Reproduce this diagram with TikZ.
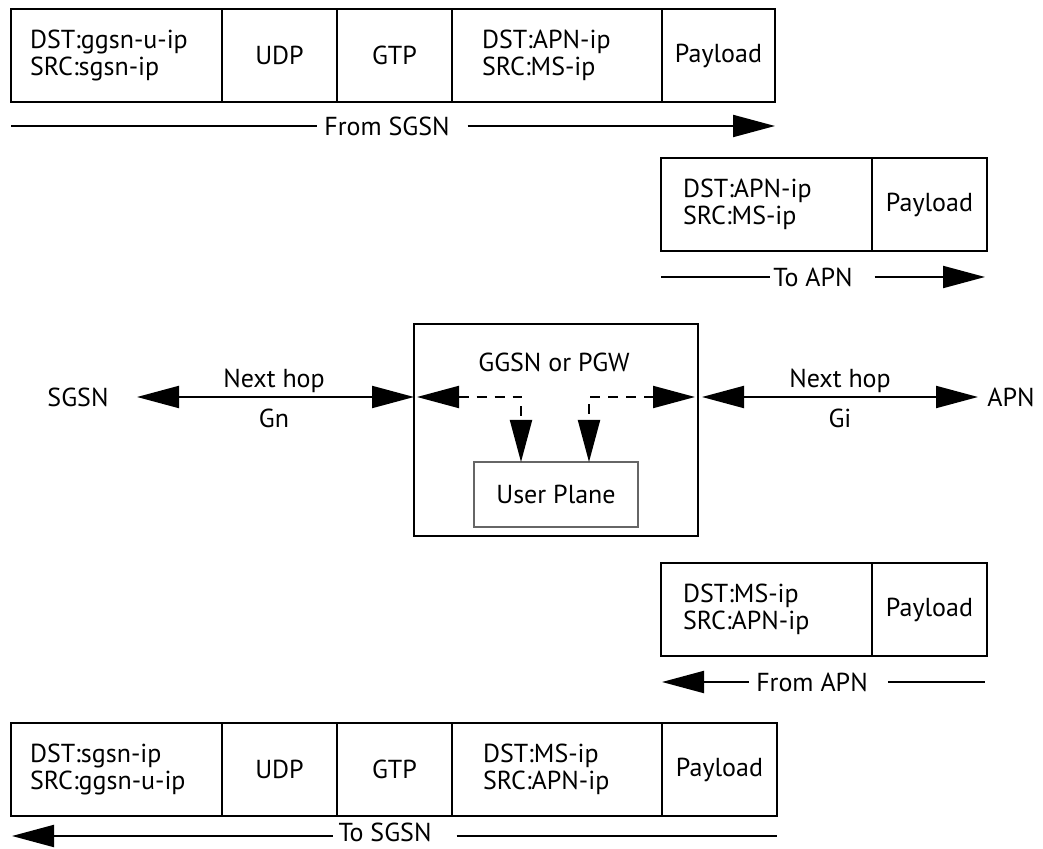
\documentclass[tikz,border=0pt]{standalone}
\usepackage{fontspec}
\setmainfont{PT Sans}
\usetikzlibrary{arrows.meta}
\begin{document}
\begin{tikzpicture}[x=0.5pt,y=-0.5pt,
  font=\fontsize{13}{13.5}\selectfont,
  tri/.tip={Triangle[length=21pt,width=11pt]},
  cell/.style={draw, line width=1pt, minimum height=46.5pt, inner sep=0pt, outer sep=0pt, anchor=west},
  hdr/.style n args={2}{cell, align=left, text width=#1, inner xsep=#2},
  box/.style={cell, minimum width=#1},
  lbl/.style={inner sep=0pt, outer sep=0pt},
  flow/.style={line width=1pt},
  dash arrow/.style={line width=1pt, dash pattern=on 5pt off 4pt, {tri}-{tri}}
]
\useasboundingbox (0,0) rectangle (1043,849);

% ---------- top packet (from SGSN)
\node[hdr={86.5pt}{9.5pt}] (t1) at (11,55.5) {DST:ggsn-u-ip\\SRC:sgsn-ip};
\node[box=57.5pt] (t2) at (t1.east) {UDP};
\node[box=57.5pt] (t3) at (t2.east) {GTP};
\node[hdr={75pt}{15pt}] (t4) at (t3.east) {DST:APN-ip\\SRC:MS-ip};
\node[box=56.5pt] (t5) at (t4.east) {Payload};
\node[lbl] (fs) at (387,126) {From SGSN};
\coordinate (fs1) at (11,126);
\coordinate (fs2) at (775,126);
\draw[flow] (fs1) -- ([xshift=-3.5pt]fs.west);
\draw[flow,-{tri}] ([xshift=9pt]fs.east) -- (fs2);

% ---------- to APN packet
\node[hdr={83.5pt}{11pt}] (a1) at (661,204.5) {DST:APN-ip\\SRC:MS-ip};
\node[box=57.5pt] (a2) at (a1.east) {Payload};
\node[lbl] (ta) at (813,277) {To APN};
\coordinate (ta1) at (661,277);
\coordinate (ta2) at (985,277);
\draw[flow] (ta1) -- ([xshift=-1.5pt]ta.west);
\draw[flow,-{tri}] ([xshift=11pt]ta.east) -- (ta2);

% ---------- middle
\node[draw, line width=1pt, minimum width=142pt, minimum height=106pt, inner sep=0pt, outer sep=0pt] (ggsn) at (556,430) {};
\node[lbl] (gtitle) at (554,362) {GGSN or PGW};
\node[draw=black!60, line width=0.6pt, minimum width=82pt, minimum height=32.5pt, inner sep=0pt, outer sep=0pt] (up) at (556,494.5) {User Plane};
\node[lbl] (sgsn) at (78,397) {SGSN};
\node[lbl] (apn) at (1011,397) {APN};
\coordinate (gn1) at (137,397);
\coordinate (gi2) at (978,397);
\draw[flow,{tri}-{tri}] (gn1) -- (ggsn.west |- gn1);
\draw[flow,{tri}-{tri}] ([xshift=2pt]ggsn.east |- gi2) -- (gi2);
\node[lbl] (nh1) at (274,381) {Next hop};
\node[lbl] (gn) at (274,418) {Gn};
\node[lbl] (nh2) at (840,381) {Next hop};
\node[lbl] (gi) at (840,418) {Gi};
\draw[dash arrow] ([xshift=1.5pt,yshift=16.5pt]ggsn.west) -| ([xshift=-17.5pt]up.north);
\draw[dash arrow] ([xshift=-1.5pt,yshift=16.5pt]ggsn.east) -| ([xshift=16.5pt]up.north);

% ---------- from APN packet
\node[hdr={83.5pt}{11pt}] (b1) at (661,609.5) {DST:MS-ip\\SRC:APN-ip};
\node[box=57.5pt] (b2) at (b1.east) {Payload};
\node[lbl] (fa) at (812,682) {From APN};
\coordinate (fa1) at (662,682);
\coordinate (fa2) at (985,682);
\draw[flow,{tri}-] (fa1) -- ([xshift=-3.5pt]fa.west);
\draw[flow] ([xshift=10pt]fa.east) -- (fa2);

% ---------- bottom packet (to SGSN)
\node[hdr={86.5pt}{9.5pt}] (s1) at (11,769.5) {DST:sgsn-ip\\SRC:ggsn-u-ip};
\node[box=57.5pt] (s2) at (s1.east) {UDP};
\node[box=57.5pt] (s3) at (s2.east) {GTP};
\node[hdr={74pt}{15.5pt}] (s4) at (s3.east) {DST:MS-ip\\SRC:APN-ip};
\node[box=57.5pt] (s5) at (s4.east) {Payload};
\node[lbl] (ts) at (385,832) {To SGSN};
\coordinate (ts1) at (12,836);
\coordinate (ts2) at (777,836);
\draw[flow,{tri}-] (ts1) -- ([xshift=-3pt]ts.west |- ts1);
\draw[flow] ([xshift=12.5pt]ts.east |- ts1) -- (ts2);
\end{tikzpicture}
\end{document}
